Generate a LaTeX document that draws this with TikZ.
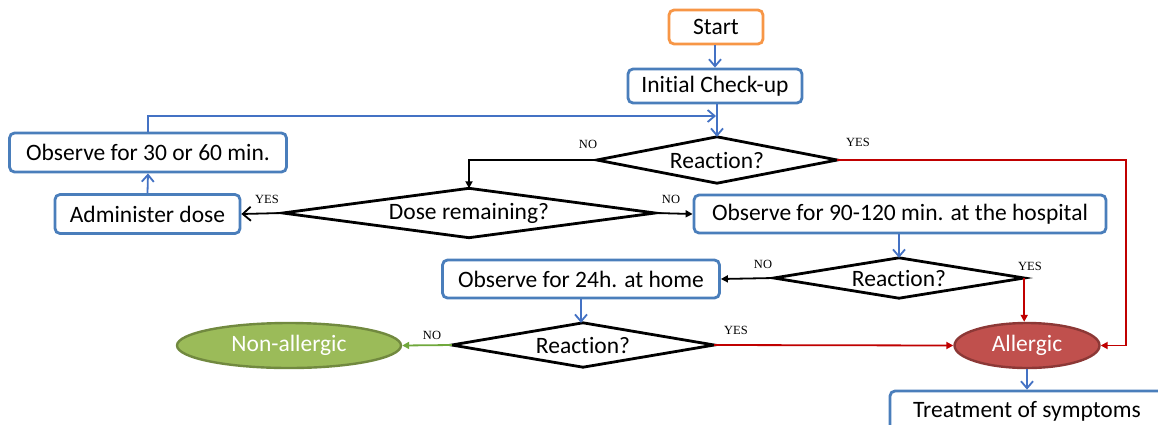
\documentclass[tikz,border=0pt]{standalone}
\usepackage{fontspec}
\setmainfont{Carlito}[Ligatures=NoCommon]
\newfontfamily\lblfont{Liberation Serif}
\usetikzlibrary{arrows.meta,shapes.geometric}
\definecolor{bxblue}{RGB}{74,126,187}
\definecolor{arblue}{RGB}{68,114,196}
\definecolor{orng}{RGB}{247,150,70}
\definecolor{rd}{RGB}{192,0,0}
\definecolor{grn}{RGB}{112,168,60}
\definecolor{nafill}{RGB}{155,187,89}
\definecolor{nadraw}{RGB}{113,137,63}
\definecolor{alfill}{RGB}{192,80,77}
\definecolor{aldraw}{RGB}{140,56,54}
\tikzset{
  box/.style={draw=bxblue,line width=2.8pt,rounded corners=5pt,fill=white,inner sep=0pt,font=\fontsize{23.5}{26}\selectfont},
  startbox/.style={box,draw=orng},
  dia/.style={inner sep=0pt,font=\fontsize{23.5}{26}\selectfont},
  diaoutline/.style={draw=black,line width=2.8pt,line join=miter},
  oval/.style={ellipse,line width=2.4pt,inner sep=0pt,text=white,font=\fontsize{23.5}{26}\selectfont},
  bl/.style={draw=arblue,line width=1.8pt,-{Straight Barb[length=7pt,width=12pt,line width=1.8pt]}},
  blk/.style={draw=black,line width=1.8pt,-{Triangle[length=7pt,width=7pt]}},
  blkopen/.style={draw=black,line width=1.8pt,-{Straight Barb[length=8pt,width=14pt,line width=1.8pt]}},
  red/.style={draw=rd,line width=1.8pt,-{Triangle[length=7pt,width=7pt]}},
  gr/.style={draw=grn,line width=1.8pt,-{Triangle[length=7pt,width=7pt]}},
  lbl/.style={font=\lblfont\fontsize{12.5}{14}\selectfont,inner sep=0pt}
}
\begin{document}
\begin{tikzpicture}[x=1pt,y=-1pt]
\useasboundingbox (0,0) rectangle (1158,424);
\clip (0,0) rectangle (1158,424);
\fill[white] (0,0) rectangle (1158,424);
% boxes
\node[startbox,minimum width=94pt,minimum height=34pt] (start) at (716,27) {Start};
\node[box,minimum width=174pt,minimum height=34pt] (check) at (715,86) {Initial Check-up};
\node[box,minimum width=277pt,minimum height=39pt] (obs30) at (148,152.5) {Observe for 30 or 60 min.};
\node[box,minimum width=185pt,minimum height=39pt] (admin) at (147.5,214) {Administer dose};
\node[box,minimum width=412pt,minimum height=38pt] (obs90) at (900,214) {Observe for 90-120 min. at the hospital};
\node[box,minimum width=277pt,minimum height=38pt] (obs24) at (581,279) {Observe for 24h. at home};
\node[box,minimum width=274pt,minimum height=40pt] (treat) at (1027,411) {Treatment of symptoms};
% diamonds
\node[dia,minimum width=240pt,minimum height=46pt] (r1) at (717,160) {};
\draw[diaoutline] (r1.west) -- (r1.north) -- (r1.east) -- (r1.south) -- cycle;
\node[dia] at (r1) {Reaction?};
\node[dia,minimum width=372pt,minimum height=49pt] (dose) at (469,213) {};
\draw[diaoutline] (dose.west) -- (dose.north) -- (dose.east) -- (dose.south) -- cycle;
\node[dia] at (dose) {Dose remaining?};
\node[dia,minimum width=250pt,minimum height=40pt] (r2) at (899,278) {};
\draw[diaoutline] (r2.west) -- (r2.north) -- (r2.east) -- (r2.south) -- cycle;
\node[dia] at (r2) {Reaction?};
\node[dia,minimum width=262pt,minimum height=44pt] (r3) at (583,345) {};
\draw[diaoutline] (r3.west) -- (r3.north) -- (r3.east) -- (r3.south) -- cycle;
\node[dia] at (r3) {Reaction?};
% ovals
\node[oval,fill=nafill,draw=nadraw,minimum width=224pt,minimum height=45pt] (nonall) at (289,345.5) {Non-allergic};
\node[oval,fill=alfill,draw=aldraw,minimum width=145pt,minimum height=45pt] (allergic) at (1027,345.5) {Allergic};
% coordinates
\coordinate (loopend) at (716,116);
\coordinate (rcorner) at (1126,160);
% connectors
\draw[bl] (start.south -| check.north) -- (check.north);
\draw[bl] (r1.north |- check.south) -- (r1.north);
\draw[bl] (obs30.north) |- (loopend);
\draw[bl] (admin.north) -- (obs30.south);
\draw[blk] (r1.west) -| (dose.north);
\draw[red] (r1.east) -- (rcorner) |- (allergic.east);
\draw[blkopen] (dose.west) -- (admin.east);
\draw[blk] (dose.east) -- (obs90.west);
\draw[bl] (obs90.south -| r2.north) -- (r2.north);
\draw[blk] (r2.west) -- (obs24.east);
\draw[red] (r2.east) -- (r2.east |- allergic.north);
\draw[bl] (obs24.south) -- (obs24.south |- r3.north);
\draw[gr] (r3.west) -- (nonall.east);
\draw[red] (r3.east) -- (allergic.west);
\draw[bl] (allergic.south) -- (treat.north);
% labels
\node[lbl] at (588,144) {NO};
\node[lbl] at (858,142) {YES};
\node[lbl] at (267,199) {YES};
\node[lbl] at (671,199) {NO};
\node[lbl] at (763,264) {NO};
\node[lbl] at (1030,266) {YES};
\node[lbl] at (432,335) {NO};
\node[lbl] at (736,330) {YES};
\end{tikzpicture}
\end{document}
